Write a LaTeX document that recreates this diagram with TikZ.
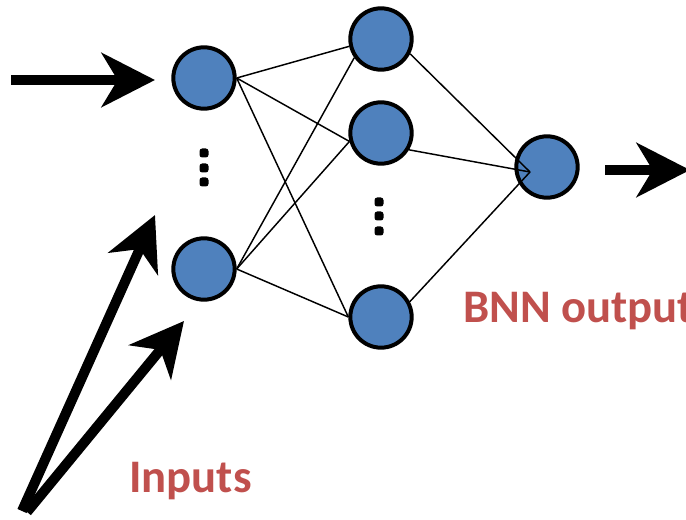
\documentclass[tikz,border=0pt]{standalone}
\usepackage{fontspec}
\newfontfamily\labfont{Carlito}
\usetikzlibrary{arrows.meta}
\definecolor{nodeblue}{RGB}{79,129,189}
\definecolor{labred}{RGB}{192,80,77}
\begin{document}
\begin{tikzpicture}[x=0.75pt,y=-0.75pt,
  neuron/.style={circle,draw=black,fill=nodeblue,line width=3pt,minimum size=46pt,inner sep=0pt},
  link/.style={draw=black,line width=1.1pt},
  bigarrow/.style={line width=7.5pt,line cap=butt,-{Stealth[length=40pt,width=40.5pt,inset=12pt]}},
  dotmark/.style={fill=black,rounded corners=2pt},
  lab/.style={text=labred,font=\labfont\bfseries\fontsize{35}{42}\selectfont,inner sep=0pt,anchor=base west}]
\clip (0,0) rectangle (686,520);
% neurons
\node[neuron] (i1) at (204,78) {};
\node[neuron] (i2) at (204,269) {};
\node[neuron] (h1) at (381,39) {};
\node[neuron] (h2) at (381,133) {};
\node[neuron] (h3) at (381,317) {};
\node[neuron] (o) at (547,167) {};
% connections
\draw[link] (i1.east) -- (h1.193);
\draw[link] (i1.east) -- (h2.195);
\draw[link] (i1.east) -- (h3.180);
\draw[link] (i2.east) -- (h1.215);
\draw[link] (i2.east) -- (h2.195);
\draw[link] (i2.east) -- (h3.180);
\draw[link] (h1.333) -- ([shift={(-17,5)}]o.center);
\draw[link] (h2.329) -- ([shift={(-17,5)}]o.center);
\draw[link] (h3.28) -- ([shift={(-17,5)}]o.center);
% ellipsis dots
\fill[dotmark] (199.5,148.5) rectangle (208.5,157.5);
\fill[dotmark] (199.5,163.5) rectangle (208.5,172.5);
\fill[dotmark] (199.5,177.5) rectangle (208.5,186.5);
\fill[dotmark] (374.5,197.5) rectangle (383.5,206.5);
\fill[dotmark] (374.5,211.5) rectangle (383.5,220.5);
\fill[dotmark] (374.5,226.5) rectangle (383.5,235.5);
% arrows
\coordinate (a1s) at (11,80);
\coordinate (a1t) at (155,80);
\coordinate (a2s) at (22,511);
\coordinate (a2t) at (155,215);
\coordinate (a3s) at (27,512);
\coordinate (a3t) at (184,321);
\coordinate (a4s) at (605,170);
\coordinate (a4t) at (690,170);
\draw[bigarrow] (a1s) -- (a1t);
\draw[bigarrow] (a2s) -- (a2t);
\draw[bigarrow] (a3s) -- (a3t);
\draw[bigarrow] (a4s) -- (a4t);
% labels
\node[lab] (inl) at (129,492) {Inputs};
\node[lab] (outl) at (463,323) {BNN output};
\end{tikzpicture}
\end{document}
